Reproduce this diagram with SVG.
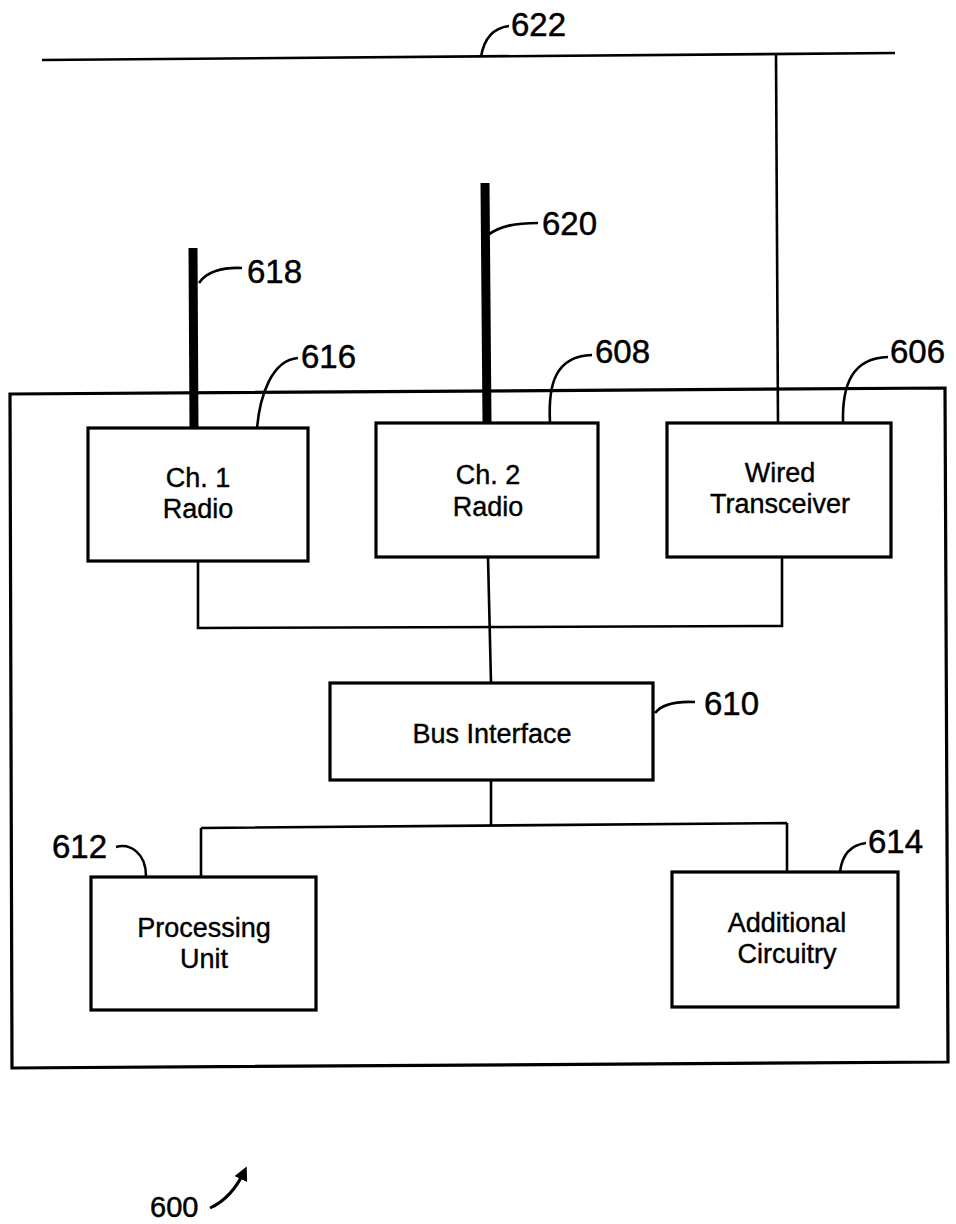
<svg xmlns="http://www.w3.org/2000/svg" width="956" height="1224" viewBox="0 0 956 1224">
<style>
.box{fill:none;stroke:#000;stroke-width:3.2}
.ln{fill:none;stroke:#000;stroke-width:2.6}
.ant{fill:none;stroke:#000;stroke-width:9}
.t{font-family:"Liberation Sans",Arial,sans-serif;font-size:27px;fill:#000;stroke:#000;stroke-width:0.4;text-anchor:middle}
.n{font-family:"Liberation Sans",Arial,sans-serif;font-size:33px;fill:#000;stroke:#000;stroke-width:0.5}
</style>
<defs>
<marker id="ah" markerWidth="14" markerHeight="14" refX="10" refY="7" orient="auto" markerUnits="userSpaceOnUse" viewBox="0 0 14 14">
<path d="M0,0 L14,7 L0,14 Z" fill="#000"/>
</marker>
</defs>
<rect width="956" height="1224" fill="#fff"/>
<g id="connectors">
<path class="ln" d="M42,60 L895,53"/>
<path class="ln" d="M776,54 L778,423"/>
<path class="ant" d="M193,248 L194,428"/>
<path class="ant" d="M485,183 L487,423"/>
<path class="ln" d="M198,562 L198,628 L782,626 L782,557"/>
<path class="ln" d="M488,557 L491,683"/>
<path class="ln" d="M491,780 L491,826 M201,828 L787,823 M201,828 L201,877 M787,823 L787,872"/>
<path class="ln" d="M481,57 C484,38 493,28 509,26"/>
<path class="ln" d="M199,283 C206,272 222,267 242,268"/>
<path class="ln" d="M257,428 C260,395 272,360 298,358"/>
<path class="ln" d="M488,235 C500,226 515,223 538,223"/>
<path class="ln" d="M550,422 C548,385 555,356 592,355"/>
<path class="ln" d="M843,423 C842,385 852,358 888,357"/>
<path class="ln" d="M655,713 C662,704 675,701 695,702"/>
<path class="ln" d="M116,847 C130,843 146,853 146,876"/>
<path class="ln" d="M840,872 C842,855 850,845 866,843"/>
<path d="M210,1208 C228,1200 238,1185 245,1170" fill="none" stroke="#000" stroke-width="3" marker-end="url(#ah)"/>
</g>
<g id="outer"><path class="box" d="M10,394 L945,388 L948,1062 L12,1068 Z"/></g>
<g id="n616"><rect class="box" x="88" y="428" width="220" height="133"/><text class="t" x="198" y="487">Ch. 1</text><text class="t" x="198" y="518">Radio</text></g>
<g id="n608"><rect class="box" x="376" y="423" width="222" height="134"/><text class="t" x="488" y="484">Ch. 2</text><text class="t" x="488" y="516">Radio</text></g>
<g id="n606"><rect class="box" x="667" y="423" width="224" height="134"/><text class="t" x="780" y="482">Wired</text><text class="t" x="780" y="513">Transceiver</text></g>
<g id="n610"><rect class="box" x="330" y="683" width="323" height="97"/><text class="t" x="492" y="743">Bus Interface</text></g>
<g id="n612"><rect class="box" x="91" y="877" width="225" height="133"/><text class="t" x="204" y="937">Processing</text><text class="t" x="204" y="968">Unit</text></g>
<g id="n614"><rect class="box" x="672" y="872" width="226" height="135"/><text class="t" x="787" y="932">Additional</text><text class="t" x="787" y="963">Circuitry</text></g>
<g id="labels">
<text class="n" x="511" y="36">622</text>
<text class="n" x="247" y="283">618</text>
<text class="n" x="301" y="368">616</text>
<text class="n" x="542" y="235">620</text>
<text class="n" x="595" y="363">608</text>
<text class="n" x="890" y="363">606</text>
<text class="n" x="704" y="715">610</text>
<text class="n" x="52" y="858">612</text>
<text class="n" x="868" y="853">614</text>
<text class="n" x="150" y="1217" style="font-size:29px">600</text>
</g>
</svg>
